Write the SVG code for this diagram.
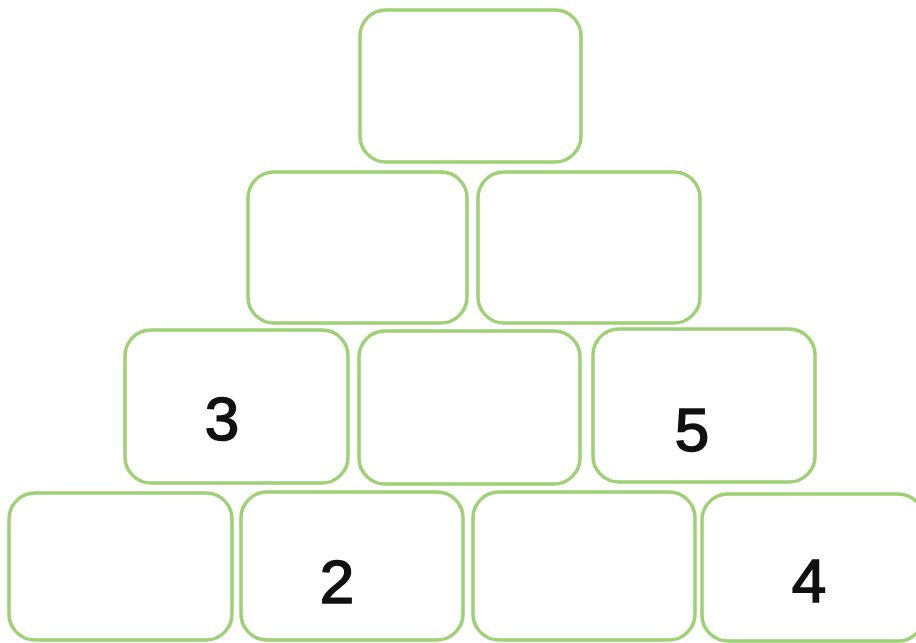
<svg xmlns="http://www.w3.org/2000/svg" width="916" height="643" viewBox="0 0 916 643">
<style>
.b{fill:#ffffff;stroke:#9dd174;stroke-width:3.5}
.t{font-family:"Liberation Sans",Arial,sans-serif;font-size:62px;fill:#111111;stroke:#111111;stroke-width:1.6;text-anchor:middle}
</style>
<rect width="916" height="643" fill="#ffffff"/>
<g id="r1c1"><rect class="b" x="360" y="10" width="221" height="152" rx="26"/></g>
<g id="r2c1"><rect class="b" x="248" y="172" width="219" height="151" rx="26"/></g>
<g id="r2c2"><rect class="b" x="478" y="172" width="222" height="151" rx="26"/></g>
<g id="r3c1"><rect class="b" x="125" y="330" width="223" height="153" rx="26"/><text class="t" x="222" y="440">3</text></g>
<g id="r3c2"><rect class="b" x="359" y="331" width="221" height="153" rx="26"/></g>
<g id="r3c3"><rect class="b" x="593" y="329" width="222" height="153" rx="26"/><text class="t" x="692" y="451">5</text></g>
<g id="r4c1"><rect class="b" x="9" y="493" width="223" height="147" rx="26"/></g>
<g id="r4c2"><rect class="b" x="241" y="492" width="222" height="148" rx="26"/><text class="t" x="337" y="603">2</text></g>
<g id="r4c3"><rect class="b" x="473" y="492" width="222" height="148" rx="26"/></g>
<g id="r4c4"><rect class="b" x="702" y="494" width="222" height="147" rx="26"/><text class="t" x="809" y="602">4</text></g>
<g id="connectors"></g>
</svg>
